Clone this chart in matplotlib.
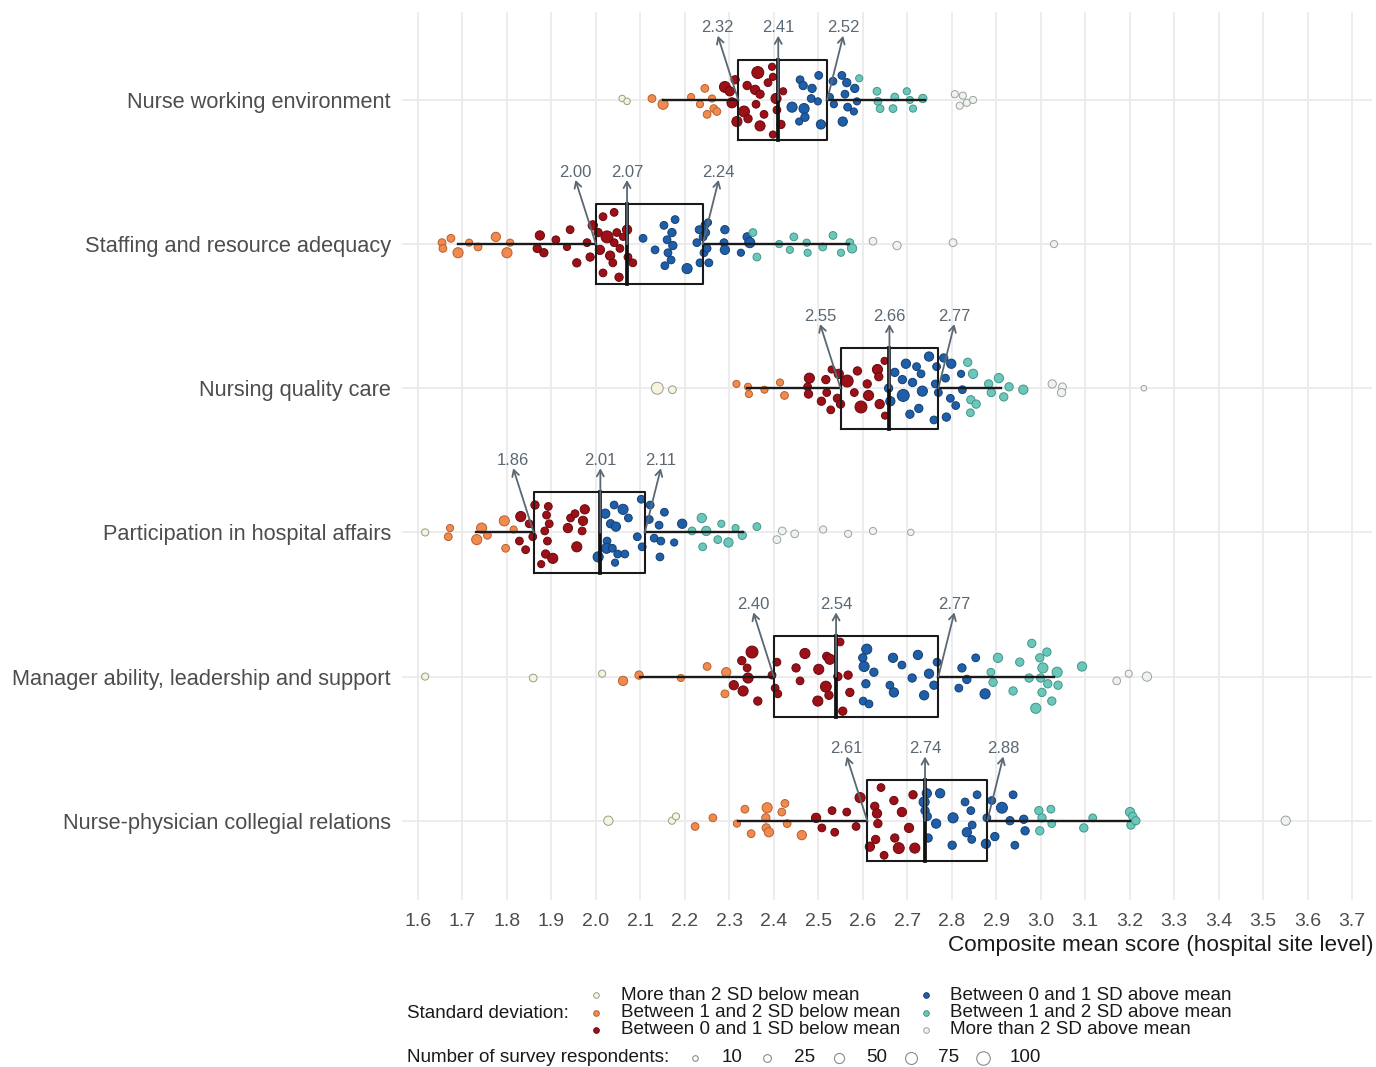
import numpy as np
import matplotlib
matplotlib.use("Agg")
import matplotlib.pyplot as plt

plt.rcParams["font.family"] = ["Liberation Sans", "DejaVu Sans"]

# ── Data ──────────────────────────────────────────────────────
domains = [
    "Nurse working environment",
    "Staffing and resource adequacy",
    "Nursing quality care",
    "Participation in hospital affairs",
    "Manager ability, leadership and support",
    "Nurse-physician collegial relations",
]

# (Q1, median, Q3) and whisker ends per domain
quartiles = [(2.32, 2.41, 2.52), (2.00, 2.07, 2.24), (2.55, 2.66, 2.77),
             (1.86, 2.01, 2.11), (2.40, 2.54, 2.77), (2.61, 2.74, 2.88)]
whiskers = [(2.15, 2.74), (1.69, 2.57), (2.34, 2.91),
            (1.73, 2.33), (2.10, 3.03), (2.32, 3.20)]

# score cut-offs: -2SD, -1SD, mean, +1SD, +2SD
sd_cuts = [
    [2.10, 2.28, 2.43, 2.59, 2.76],
    [1.60, 1.84, 2.10, 2.35, 2.60],
    [2.25, 2.45, 2.655, 2.83, 3.00],
    [1.64, 1.825, 1.99, 2.205, 2.385],
    [2.04, 2.30, 2.585, 2.882, 3.13],
    [2.20, 2.48, 2.727, 2.98, 3.23],
]

# hospital sites: (composite score, vertical jitter, survey respondents)
nurse_env_sites = [
    (2.059, 0.01, 15), (2.070, -0.01, 15), (2.126, 0.01, 25), (2.151, -0.03, 50),
    (2.214, 0.02, 20), (2.245, 0.08, 25), (2.234, -0.03, 20), (2.261, 0.01, 20),
    (2.265, -0.06, 25), (2.250, -0.10, 25), (2.272, -0.08, 25), (2.290, 0.09, 60),
    (2.301, 0.06, 40), (2.313, 0.14, 30), (2.306, -0.02, 50), (2.317, -0.15, 50),
    (2.333, -0.08, 60), (2.342, -0.13, 30), (2.340, 0.10, 30), (2.364, 0.19, 75),
    (2.358, 0.07, 40), (2.369, 0.04, 30), (2.360, -0.03, 25), (2.369, -0.18, 50),
    (2.378, -0.10, 25), (2.387, 0.12, 25), (2.396, 0.23, 20), (2.398, 0.16, 20),
    (2.405, 0.01, 50), (2.407, -0.07, 25), (2.416, -0.17, 30), (2.421, 0.06, 20),
    (2.398, -0.24, 20), (2.441, -0.05, 50), (2.459, 0.14, 25), (2.466, 0.10, 30),
    (2.486, 0.08, 30), (2.468, -0.06, 50), (2.470, -0.12, 30), (2.457, -0.15, 20),
    (2.484, 0.01, 25), (2.501, 0.17, 25), (2.506, -0.17, 40), (2.499, -0.01, 20),
    (2.526, 0.02, 20), (2.533, 0.13, 25), (2.535, -0.03, 20), (2.553, 0.17, 25),
    (2.564, 0.12, 30), (2.555, -0.15, 40), (2.560, 0.04, 25), (2.566, -0.05, 25),
    (2.582, 0.08, 30), (2.580, -0.08, 20), (2.587, -0.01, 20), (2.592, 0.15, 20),
    (2.632, 0.06, 25), (2.634, -0.01, 25), (2.639, -0.06, 25), (2.668, -0.06, 25),
    (2.672, 0.02, 25), (2.699, 0.06, 20), (2.706, 0.00, 20), (2.713, -0.06, 20),
    (2.735, 0.01, 30), (2.807, 0.04, 20), (2.818, -0.04, 20), (2.825, 0.03, 20),
    (2.834, -0.02, 20), (2.848, 0.00, 20),
]

staffing_sites = [
    (1.654, 0.01, 25), (1.656, -0.03, 25), (1.674, 0.04, 25), (1.690, -0.06, 50),
    (1.715, 0.01, 20), (1.735, -0.02, 25), (1.775, 0.05, 40), (1.800, -0.06, 50),
    (1.807, 0.01, 20), (1.874, 0.06, 40), (1.868, -0.03, 30), (1.883, -0.06, 30),
    (1.910, 0.03, 25), (1.942, 0.10, 25), (1.935, -0.02, 20), (1.957, -0.13, 30),
    (1.980, 0.01, 25), (1.993, 0.13, 40), (1.987, -0.09, 30), (2.016, 0.19, 25),
    (2.041, 0.22, 25), (2.025, 0.05, 75), (2.005, 0.08, 30), (2.009, -0.04, 40),
    (2.032, -0.08, 40), (2.041, 0.01, 25), (2.047, 0.08, 25), (2.054, -0.03, 25),
    (2.038, -0.13, 25), (2.016, -0.20, 25), (2.052, -0.23, 30), (2.070, 0.10, 40),
    (2.072, -0.09, 25), (2.083, -0.13, 25), (2.061, 0.05, 20), (2.106, 0.04, 25),
    (2.133, -0.04, 25), (2.153, 0.13, 25), (2.178, 0.17, 25), (2.171, 0.08, 30),
    (2.160, 0.03, 25), (2.173, -0.01, 30), (2.162, -0.06, 25), (2.169, -0.11, 25),
    (2.155, -0.15, 25), (2.205, -0.17, 50), (2.227, 0.01, 25), (2.232, 0.10, 25),
    (2.241, 0.05, 25), (2.245, 0.13, 25), (2.243, -0.06, 25), (2.234, -0.13, 25),
    (2.250, -0.03, 25), (2.252, 0.15, 20), (2.247, 0.08, 25), (2.254, -0.13, 25),
    (2.290, 0.10, 30), (2.288, 0.01, 25), (2.290, -0.04, 40), (2.326, -0.06, 20),
    (2.340, 0.05, 30), (2.346, 0.01, 50), (2.353, 0.08, 25), (2.362, -0.09, 25),
    (2.412, 0.00, 20), (2.436, -0.04, 20), (2.445, 0.05, 25), (2.474, 0.01, 20),
    (2.476, -0.06, 20), (2.510, -0.02, 25), (2.533, 0.06, 25), (2.551, -0.06, 20),
    (2.571, 0.01, 25), (2.576, -0.03, 40), (2.623, 0.02, 25), (2.677, -0.01, 30),
    (2.803, 0.01, 25), (3.030, 0.00, 20),
]

quality_sites = [
    (2.138, 0.00, 75), (2.172, -0.01, 25), (2.316, 0.03, 20), (2.342, 0.01, 20),
    (2.344, -0.04, 20), (2.379, -0.01, 20), (2.414, 0.04, 20), (2.424, -0.05, 25),
    (2.480, 0.07, 50), (2.476, 0.01, 25), (2.478, -0.04, 30), (2.517, 0.06, 30),
    (2.519, -0.03, 25), (2.507, -0.09, 30), (2.528, -0.15, 25), (2.530, 0.13, 20),
    (2.546, 0.10, 40), (2.565, 0.05, 75), (2.543, -0.07, 30), (2.550, -0.11, 30),
    (2.588, 0.12, 30), (2.581, -0.03, 25), (2.596, -0.13, 75), (2.610, 0.03, 30),
    (2.613, -0.05, 50), (2.633, 0.13, 50), (2.636, 0.08, 30), (2.638, -0.11, 40),
    (2.649, 0.19, 20), (2.650, -0.19, 20), (2.672, 0.11, 30), (2.658, 0.00, 30),
    (2.662, -0.09, 40), (2.697, 0.17, 40), (2.689, 0.06, 30), (2.691, -0.05, 75),
    (2.721, 0.15, 25), (2.712, 0.04, 30), (2.731, 0.10, 25), (2.734, -0.02, 50),
    (2.726, -0.14, 30), (2.706, -0.18, 30), (2.749, 0.22, 40), (2.766, 0.15, 25),
    (2.763, 0.03, 25), (2.770, -0.03, 25), (2.760, -0.22, 25), (2.782, 0.21, 30),
    (2.799, 0.17, 40), (2.788, -0.20, 30), (2.821, 0.10, 20), (2.824, -0.01, 25),
    (2.797, -0.07, 25), (2.809, -0.12, 25), (2.786, 0.07, 25), (2.836, 0.18, 30),
    (2.848, 0.10, 40), (2.883, 0.03, 30), (2.889, -0.03, 30), (2.906, 0.07, 40),
    (2.843, -0.08, 30), (2.855, -0.11, 30), (2.842, -0.17, 25), (2.929, 0.01, 30),
    (2.917, -0.06, 30), (2.961, -0.01, 40), (3.026, 0.03, 30), (3.049, 0.01, 25),
    (3.047, -0.03, 30), (3.232, 0.00, 10),
]

participation_sites = [
    (1.616, 0.00, 20), (1.672, 0.03, 20), (1.668, -0.03, 25), (1.743, 0.03, 50),
    (1.732, -0.05, 50), (1.756, -0.02, 25), (1.794, 0.08, 50), (1.797, -0.11, 25),
    (1.815, 0.02, 20), (1.831, 0.11, 50), (1.863, 0.19, 30), (1.850, 0.06, 25),
    (1.858, -0.03, 25), (1.828, -0.06, 25), (1.842, -0.12, 25), (1.893, 0.18, 25),
    (1.889, 0.12, 25), (1.895, 0.06, 25), (1.885, 0.01, 25), (1.891, -0.06, 25),
    (1.887, -0.15, 30), (1.903, -0.18, 50), (1.877, -0.22, 20), (1.937, 0.03, 40),
    (1.943, 0.10, 25), (1.953, 0.13, 25), (1.975, 0.16, 40), (1.971, 0.08, 40),
    (1.969, 0.01, 25), (1.957, -0.10, 50), (2.005, -0.17, 50), (2.021, 0.13, 40),
    (2.041, 0.19, 25), (2.061, 0.16, 50), (2.033, 0.06, 30), (2.045, 0.04, 40),
    (2.025, -0.06, 25), (2.024, -0.11, 50), (2.037, -0.11, 25), (2.049, -0.15, 25),
    (2.065, -0.15, 25), (2.043, -0.21, 20), (2.073, 0.10, 25), (2.102, 0.23, 25),
    (2.093, -0.03, 25), (2.104, -0.10, 25), (2.122, 0.19, 25), (2.120, 0.09, 25),
    (2.131, -0.04, 25), (2.142, 0.05, 25), (2.154, 0.14, 25), (2.146, -0.06, 25),
    (2.144, -0.17, 25), (2.176, -0.07, 20), (2.194, 0.06, 40), (2.216, 0.01, 25),
    (2.238, 0.10, 40), (2.248, 0.01, 40), (2.240, -0.10, 25), (2.274, -0.05, 25),
    (2.282, 0.06, 20), (2.298, -0.07, 40), (2.314, 0.03, 20), (2.329, -0.02, 30),
    (2.362, 0.04, 25), (2.407, -0.05, 25), (2.419, 0.01, 25), (2.447, -0.01, 25),
    (2.511, 0.02, 20), (2.567, -0.01, 20), (2.623, 0.01, 20), (2.708, 0.00, 15),
]

manager_sites = [
    (1.616, 0.00, 20), (1.859, -0.01, 25), (2.014, 0.02, 20), (2.061, -0.03, 40),
    (2.097, 0.01, 30), (2.191, -0.01, 20), (2.250, 0.07, 25), (2.293, 0.03, 40),
    (2.290, -0.12, 25), (2.351, 0.17, 75), (2.328, 0.11, 30), (2.340, 0.06, 25),
    (2.342, -0.01, 50), (2.310, -0.06, 40), (2.331, -0.10, 50), (2.364, -0.17, 30),
    (2.407, 0.10, 25), (2.396, 0.01, 25), (2.403, -0.08, 25), (2.409, -0.12, 25),
    (2.470, 0.16, 50), (2.450, 0.06, 30), (2.459, -0.03, 25), (2.501, 0.05, 50),
    (2.519, 0.14, 30), (2.526, 0.12, 50), (2.517, -0.07, 60), (2.499, -0.17, 50),
    (2.524, -0.13, 30), (2.549, 0.24, 25), (2.567, 0.01, 30), (2.571, -0.11, 30),
    (2.555, -0.24, 30), (2.544, 0.00, 30), (2.609, 0.19, 50), (2.600, 0.13, 30),
    (2.603, 0.07, 50), (2.625, 0.03, 30), (2.607, -0.05, 30), (2.601, -0.17, 25),
    (2.614, -0.19, 25), (2.668, 0.13, 40), (2.688, 0.08, 25), (2.661, -0.06, 25),
    (2.670, -0.11, 40), (2.724, 0.15, 40), (2.711, -0.01, 30), (2.749, 0.02, 40),
    (2.738, -0.13, 40), (2.760, -0.06, 30), (2.767, 0.10, 25), (2.823, 0.06, 30),
    (2.834, -0.02, 30), (2.816, -0.08, 25), (2.854, 0.13, 25), (2.875, -0.12, 50),
    (2.904, 0.13, 40), (2.888, 0.03, 25), (2.893, -0.04, 30), (2.938, -0.10, 30),
    (2.953, 0.10, 30), (2.980, 0.23, 30), (3.014, 0.17, 30), (2.998, 0.13, 30),
    (3.005, 0.06, 50), (2.974, -0.01, 30), (3.000, -0.01, 30), (3.016, -0.05, 30),
    (3.037, 0.03, 50), (3.039, -0.06, 30), (3.003, -0.11, 30), (3.025, -0.17, 30),
    (2.989, -0.22, 50), (3.093, 0.07, 40), (3.171, -0.03, 25), (3.198, 0.02, 20),
    (3.239, 0.00, 40),
]

collegial_sites = [
    (2.028, 0.00, 40), (2.171, 0.00, 20), (2.180, 0.03, 20), (2.223, -0.04, 25),
    (2.263, 0.02, 25), (2.317, -0.02, 20), (2.335, 0.08, 25), (2.349, -0.09, 25),
    (2.385, 0.09, 50), (2.382, 0.02, 30), (2.383, -0.05, 30), (2.389, -0.08, 40),
    (2.425, 0.12, 25), (2.418, 0.06, 25), (2.430, -0.02, 25), (2.463, -0.10, 40),
    (2.495, 0.02, 40), (2.508, -0.05, 25), (2.531, 0.07, 25), (2.537, -0.08, 25),
    (2.564, 0.06, 25), (2.585, -0.04, 25), (2.594, 0.16, 50), (2.627, 0.10, 30),
    (2.632, 0.05, 40), (2.641, 0.23, 25), (2.634, -0.02, 30), (2.616, -0.18, 40),
    (2.629, -0.13, 30), (2.670, 0.14, 30), (2.688, 0.06, 40), (2.672, -0.12, 30),
    (2.681, -0.19, 60), (2.704, -0.05, 40), (2.648, -0.24, 25), (2.717, -0.19, 50),
    (2.713, 0.18, 30), (2.744, 0.19, 40), (2.738, 0.13, 50), (2.740, 0.07, 30),
    (2.745, 0.03, 30), (2.747, -0.12, 30), (2.774, 0.19, 40), (2.765, -0.02, 40),
    (2.803, 0.02, 50), (2.801, -0.17, 30), (2.830, 0.13, 25), (2.843, 0.07, 25),
    (2.834, -0.08, 40), (2.857, 0.18, 25), (2.846, -0.03, 25), (2.845, -0.13, 25),
    (2.877, -0.16, 40), (2.879, 0.02, 25), (2.890, 0.14, 25), (2.913, 0.09, 60),
    (2.897, -0.11, 30), (2.938, 0.18, 25), (2.931, 0.00, 30), (2.962, 0.01, 30),
    (2.942, -0.17, 25), (2.965, -0.07, 30), (2.996, 0.07, 30), (3.003, 0.02, 30),
    (3.023, 0.08, 25), (2.998, -0.07, 30), (3.025, -0.02, 25), (3.097, -0.05, 30),
    (3.117, 0.02, 25), (3.201, 0.06, 40), (3.207, 0.03, 30), (3.203, -0.03, 30),
    (3.214, 0.00, 30), (3.551, 0.00, 40),
]

domain_sites = [nurse_env_sites, staffing_sites, quality_sites,
                participation_sites, manager_sites, collegial_sites]

sd_labels = ["More than 2 SD below mean", "Between 1 and 2 SD below mean",
             "Between 0 and 1 SD below mean", "Between 0 and 1 SD above mean",
             "Between 1 and 2 SD above mean", "More than 2 SD above mean"]
size_breaks = [10, 25, 50, 75, 100]
x_ticks = [1.6, 1.7, 1.8, 1.9, 2.0, 2.1, 2.2, 2.3, 2.4, 2.5, 2.6, 2.7,
           2.8, 2.9, 3.0, 3.1, 3.2, 3.3, 3.4, 3.5, 3.6, 3.7]

# ── Style ─────────────────────────────────────────────────────
band_fill = ["#f6f3df", "#f08a4f", "#9e1017", "#1f5ea8", "#6cc6b9", "#eef3ee"]
band_edge = ["#9c9c8a", "#b8602d", "#650a0e", "#143f72", "#3f978b", "#9aa39f"]
ARROW_COL = "#5a6874"
TXT = "#1a1a1a"
W, H = 1376, 1067


def marker_area(n):
    d_px = 2.0 + 1.15 * np.sqrt(n)
    return (d_px * 0.72) ** 2


def fx(px):
    return px / W


def fy(py):
    return 1 - py / H


fig = plt.figure(figsize=(W / 100, H / 100), dpi=100)
ax = fig.add_axes([fx(402), fy(900), fx(1372) - fx(402), fy(12) - fy(900)])

ax.set_xlim(1.564, 3.745)
ax.set_ylim(0.45, 6.61)
for s in ax.spines.values():
    s.set_visible(False)
ax.set_xticks(x_ticks)
ax.set_xticklabels([f"{t:.1f}" for t in x_ticks])
ax.set_yticks([6 - i for i in range(len(domains))])
ax.set_yticklabels(domains)
ax.tick_params(axis="both", length=0, colors="#4d4d4d")
ax.tick_params(axis="x", pad=9, labelsize=14)
ax.tick_params(axis="y", pad=8, labelsize=15.7)
ax.grid(True, color="#ebebeb", linewidth=1.3, zorder=0)
ax.set_axisbelow(True)

box_h = 0.28
for i, (sites, cuts, (q1, med, q3), (wlo, whi)) in enumerate(
        zip(domain_sites, sd_cuts, quartiles, whiskers)):
    yc = 6 - i
    arr = np.array(sites)
    band = np.searchsorted(cuts, arr[:, 0])
    ax.scatter(arr[:, 0], yc + arr[:, 1], s=marker_area(arr[:, 2]),
               c=[band_fill[b] for b in band],
               edgecolors=[band_edge[b] for b in band],
               linewidths=0.7, zorder=2)

    # whiskers + box
    ax.plot([wlo, q1], [yc, yc], color=TXT, lw=1.7, zorder=3)
    ax.plot([q3, whi], [yc, yc], color=TXT, lw=1.7, zorder=3)
    ax.plot([q1, q3, q3, q1, q1],
            [yc - box_h, yc - box_h, yc + box_h, yc + box_h, yc - box_h],
            color=TXT, lw=1.5, zorder=3)
    ax.plot([med, med], [yc - box_h, yc + box_h], color="#111111",
            lw=2.7, zorder=3)

    # quartile call-outs
    for q, nudge in [(q1, -0.046), (med, 0.0), (q3, 0.036)]:
        ax.annotate("", xy=(q + nudge, yc + 0.445), xytext=(q, yc),
                    arrowprops=dict(arrowstyle="->,head_length=0.45,head_width=0.25",
                                    color=ARROW_COL, lw=1.3,
                                    shrinkA=0, shrinkB=0), zorder=4)
        ax.text(q + nudge, yc + 0.5, f"{q:.2f}", ha="center", va="center",
                fontsize=12, color=ARROW_COL, zorder=4)

fig.text(fx(1373), fy(946), "Composite mean score (hospital site level)",
         ha="right", va="center", fontsize=16.2, color=TXT)

# ── Legend ────────────────────────────────────────────────────
lax = fig.add_axes([0, 0, 1, 1])
lax.set_xlim(0, 1)
lax.set_ylim(0, 1)
lax.axis("off")

LEG_FS = 13.6
fig.text(fx(407), fy(1013), "Standard deviation:", ha="left", va="center",
         fontsize=LEG_FS, color=TXT)
for k, lab in enumerate(sd_labels):
    col, row = divmod(k, 3)
    mx = 596 if col == 0 else 926
    tx = 621 if col == 0 else 950
    py = 995 + row * 17.5
    lax.scatter([fx(mx)], [fy(py)], s=marker_area(10), c=band_fill[k],
                edgecolors=band_edge[k], linewidths=0.7)
    fig.text(fx(tx), fy(py), lab, ha="left", va="center", fontsize=LEG_FS,
             color=TXT)

fig.text(fx(407), fy(1058), "Number of survey respondents:", ha="left",
         va="center", fontsize=LEG_FS, color=TXT)
for k, n in enumerate(size_breaks):
    mx = 695 + k * 72
    lax.scatter([fx(mx)], [fy(1058)], s=marker_area(n), c="white",
                edgecolors="#8a8a8a", linewidths=0.8)
    fig.text(fx(mx + 27), fy(1058), str(n), ha="left", va="center",
             fontsize=LEG_FS, color=TXT)

fig.savefig("out.png", dpi=100)
